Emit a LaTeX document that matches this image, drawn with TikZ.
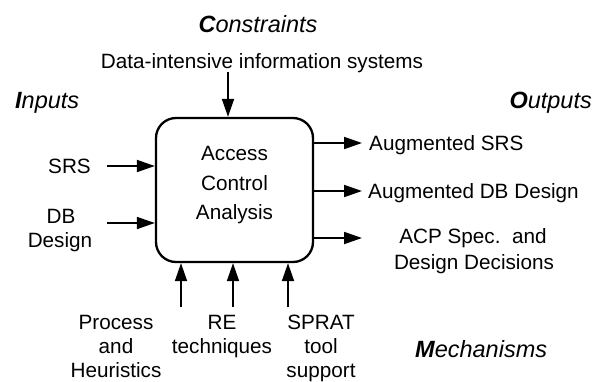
\documentclass[tikz,border=0pt]{standalone}
\usepackage{fontspec}
\setmainfont{Liberation Sans}
\usetikzlibrary{arrows.meta}
\begin{document}
\begin{tikzpicture}[x=1pt,y=-1pt,
  lbl/.style={inner sep=0pt, anchor=base, font=\fontsize{20.7}{24.5}\selectfont},
  head/.style={inner sep=0pt, anchor=base, font=\fontsize{23.5}{28}\selectfont\itshape},
  arr/.style={line width=1.8pt, -{Triangle[length=18pt,width=12pt]}},
  acbox/.style={draw, line width=2.3pt, rounded corners=20pt, minimum width=157pt, minimum height=144pt, inner sep=0pt}]
\useasboundingbox (0,0) rectangle (605,381);

% headings
\node[head] (hcon) at (258,32) {{\bfseries C}onstraints};
\node[head, anchor=base west] (hin) at (15,108) {{\bfseries I}nputs};
\node[head, anchor=base east] (hout) at (592,108) {{\bfseries O}utputs};
\node[head, anchor=base west] (hmech) at (415,357) {{\bfseries M}echanisms};

% main box
\node[acbox] (acbox) at (234.5,190) {};
\node[lbl] (acl1) at (234.5,160) {Access};
\node[lbl] (acl2) at (234.5,190) {Control};
\node[lbl] (acl3) at (234.5,219) {Analysis};

% constraint
\node[lbl] (dis) at (262,68) {Data-intensive information systems};
\coordinate (c0) at (228,72);
\draw[arr] (c0) -- (c0 |- acbox.north);

% inputs
\node[lbl] (srs) at (69.5,173) {SRS};
\node[lbl] (db1) at (61,223) {DB};
\node[lbl] (db2) at (60,247) {Design};
\coordinate (i1) at (107,166);
\coordinate (i2) at (107,223);
\draw[arr] (i1) -- (i1 -| acbox.west);
\draw[arr] (i2) -- (i2 -| acbox.west);

% outputs
\coordinate (o1) at (362,143);
\coordinate (o2) at (362,191);
\coordinate (o3) at (362,238);
\draw[arr] (o1 -| acbox.east) -- (o1);
\draw[arr] (o2 -| acbox.east) -- (o2);
\draw[arr] (o3 -| acbox.east) -- (o3);
\node[lbl, anchor=base west] (out1) at (369,150) {Augmented SRS};
\node[lbl, anchor=base west] (out2) at (368,198) {Augmented DB Design};
\node[lbl] (out3a) at (473,243) {ACP Spec.\ \ and};
\node[lbl] (out3b) at (474,269) {Design Decisions};

% mechanisms
\coordinate (m1) at (181,307);
\coordinate (m2) at (233,307);
\coordinate (m3) at (288,307);
\draw[arr] (m1) -- (m1 |- acbox.south);
\draw[arr] (m2) -- (m2 |- acbox.south);
\draw[arr] (m3) -- (m3 |- acbox.south);
\node[lbl] (pa) at (116,329) {Process};
\node[lbl] (pb) at (116,353) {and};
\node[lbl] (pc) at (116,377) {Heuristics};
\node[lbl] (ra) at (222,329) {RE};
\node[lbl] (rb) at (222,353) {techniques};
\node[lbl] (sa) at (321,329) {SPRAT};
\node[lbl] (sb) at (321,353) {tool};
\node[lbl] (sc) at (321,377) {support};
\end{tikzpicture}
\end{document}
